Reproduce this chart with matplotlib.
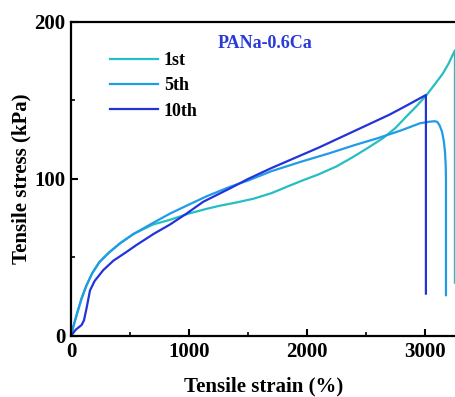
import matplotlib
matplotlib.use("Agg")
import matplotlib.pyplot as plt
from matplotlib.ticker import MultipleLocator

plt.rcParams['font.family'] = ['Liberation Serif', 'DejaVu Serif']
plt.rcParams['font.weight'] = 'bold'

# Data (strain %, stress kPa)
strain_1st = [0, 20, 50, 90, 130, 180, 240, 320, 415, 530, 695, 839, 1000, 1150, 1263, 1400, 1550,
              1700, 1828, 1960, 2100, 2250, 2390, 2520, 2644, 2750, 2845, 2930, 3014, 3090, 3150, 3200, 3254, 3254]
stress_1st = [0, 6, 14, 24, 32, 40, 47, 53, 59, 65, 71, 74, 78, 81, 83, 85, 87.5,
              91, 95, 99, 103, 108, 114, 120, 126, 132.5, 140, 146.5, 153.5, 161, 167, 173.5, 182, 34]

strain_5th = [0, 20, 50, 90, 130, 180, 240, 320, 415, 530, 695, 840, 980, 1150, 1347, 1500, 1700, 1950,
              2195, 2400, 2600, 2800, 2958, 3040, 3085, 3105, 3125, 3145, 3160, 3170, 3176, 3178, 3178]
stress_5th = [0, 6, 14, 24, 32, 40, 47, 53, 59, 65, 72, 78, 83, 89, 95, 99, 105, 111,
              116.5, 121.5, 126, 131, 135.5, 136.5, 136.8, 136.3, 134, 130, 124, 117, 108, 100, 26]

strain_10th = [0, 40, 90, 110, 130, 161, 200, 274, 360, 460, 556, 700, 839, 980, 1121, 1347, 1500, 1700,
               1900, 2100, 2300, 2500, 2700, 2850, 3008, 3008]
stress_10th = [0, 4, 7, 10, 17, 29, 35, 42, 48, 53, 58, 65, 71, 78, 85.5, 94, 100, 107,
               113.5, 120, 127, 134, 141, 147, 153.5, 27]

labels = ['1st', '5th', '10th']
colors = ['#25BEC2', '#1F9BE8', '#2233DA']
x_ticks = [0, 1000, 2000, 3000]
y_ticks = [0, 100, 200]
title_text = 'PANa-0.6Ca'

fig = plt.figure(figsize=(4.56, 3.97), dpi=100)
ax = fig.add_axes([0.1557, 0.1537, 0.8443, 0.7909])

for sx, sy, lab, c in zip([strain_1st, strain_5th, strain_10th],
                          [stress_1st, stress_5th, stress_10th], labels, colors):
    ax.plot(sx, sy, color=c, lw=1.6, label=lab, solid_joinstyle='round')

ax.set_xlim(0, 3263)
ax.set_ylim(0, 200)
ax.set_xticks(x_ticks)
ax.set_yticks(y_ticks)
ax.xaxis.set_minor_locator(MultipleLocator(500))
ax.yaxis.set_minor_locator(MultipleLocator(50))
ax.tick_params(which='major', direction='in', length=5, width=1.5, labelsize=15, pad=4)
ax.tick_params(which='minor', direction='in', length=3, width=1.2)
ax.tick_params(top=False, right=False)
for s in ['left', 'bottom', 'top']:
    ax.spines[s].set_linewidth(1.6)
ax.spines['right'].set_visible(False)

for lbl in ax.get_xticklabels() + ax.get_yticklabels():
    lbl.set_fontweight('bold')

ax.set_xlabel('Tensile strain (%)', fontsize=15, fontweight='bold', labelpad=11)
ax.set_ylabel('Tensile stress (kPa)', fontsize=15, fontweight='bold', labelpad=2)

ax.text(0.382, 0.93, title_text, transform=ax.transAxes, color='#2A3AD8',
        fontsize=13, fontweight='bold', va='center', ha='left')

leg = ax.legend(loc='upper left', bbox_to_anchor=(0.058, 0.955), frameon=False,
                handlelength=2.7, handletextpad=0.3, labelspacing=0.45,
                prop={'size': 13, 'weight': 'bold'})

fig.savefig('out.png', dpi=100)
